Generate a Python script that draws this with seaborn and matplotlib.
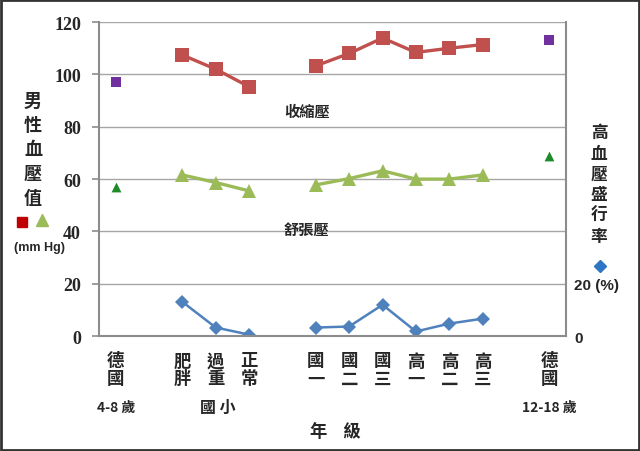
import matplotlib
matplotlib.use("Agg")
import matplotlib.pyplot as plt
from matplotlib.patches import Rectangle
import numpy as np
import pandas as pd
import seaborn as sns

# grades (Taiwan groups) and German reference groups
grades = ["肥\n胖", "過\n重", "正\n常", "國\n一", "國\n二", "國\n三", "高\n一", "高\n二", "高\n三"]
grade_group = ["elem", "elem", "elem", "jr", "jr", "jr", "jr", "jr", "jr"]
systolic = [107.4, 102.0, 95.3, 103.3, 108.0, 113.9, 108.4, 110.0, 111.4]
diastolic = [61.6, 58.7, 55.5, 57.8, 60.2, 63.2, 60.0, 60.0, 61.6]
prevalence = [13.1, 3.3, 0.6, 3.3, 3.7, 12.0, 1.8, 4.8, 6.7]

germany = ["德\n國", "德\n國"]
germany_sys = [97.0, 113.0]
germany_dia = [57.0, 69.0]

# slot layout on the x axis (gaps between groups)
grade_pos = [2, 3, 4, 6, 7, 8, 9, 10, 11]
germany_pos = [0, 13]

sns.set_style("white")
plt.rcParams["font.family"] = ["Noto Sans CJK TC", "DejaVu Sans"]
plt.rcParams["font.weight"] = "bold"

df = pd.DataFrame({"pos": grade_pos, "grp": grade_group, "sys": systolic,
                   "dia": diastolic, "prev": prevalence})
gdf = pd.DataFrame({"pos": germany_pos, "sys": germany_sys, "dia": germany_dia})

fig = plt.figure(figsize=(6.4, 4.52), dpi=100)
ax = fig.add_axes([0.1547, 0.254, 0.7297, 0.695])

ax.grid(axis="y", color="#a6a6a6", lw=1)
ax.set_axisbelow(True)

sns.lineplot(data=df, x="pos", y="sys", units="grp", estimator=None, ax=ax,
             color="#c0504d", lw=2.4, marker="s", markersize=10.5, markeredgewidth=0)
sns.lineplot(data=df, x="pos", y="dia", units="grp", estimator=None, ax=ax,
             color="#9bbb59", lw=2.4, marker="^", markersize=10.5, markeredgewidth=0)
sns.lineplot(data=df, x="pos", y="prev", units="grp", estimator=None, ax=ax,
             color="#4f81bd", lw=1.8, marker="D", markersize=7, markeredgewidth=0)
sns.scatterplot(data=gdf, x="pos", y="sys", ax=ax, color="#7030a0", marker="s",
                s=50, linewidth=0)
sns.scatterplot(data=gdf, x="pos", y="dia", ax=ax, color="#1e8b28", marker="^",
                s=50, linewidth=0)

ax.set_xlim(-0.5, 13.5)
ax.set_ylim(0, 120)
ax.set_yticks(range(0, 121, 20))
ax.set_yticklabels([str(v) for v in range(0, 121, 20)],
                   family="Liberation Serif", fontsize=13, fontweight="bold")
ax.set_xticks(np.arange(-0.5, 14, 1))
ax.set_xticklabels([])
ax.set_xticks(grade_pos + germany_pos, minor=True)
ax.set_xticklabels(grades + germany, minor=True, fontsize=12.5, linespacing=1.0)
ax.tick_params(axis="x", which="major", direction="out", length=5, color="#8c8c8c", width=1.2)
ax.tick_params(axis="x", which="minor", length=0, pad=11)
ax.tick_params(axis="y", direction="out", length=5, color="#8c8c8c", width=1.2, pad=8)
ax.set_xlabel("")
ax.set_ylabel("")
for side in ["left", "bottom", "right"]:
    ax.spines[side].set_color("#8c8c8c")
    ax.spines[side].set_linewidth(1.5)
ax.spines["top"].set_visible(False)

ax2 = ax.twinx()
ax2.set_ylim(0, 120)
ax2.set_yticks([0, 20])
ax2.set_yticklabels(["0", "20 (%)"], fontsize=11, fontweight="bold", family="Liberation Sans")
ax2.tick_params(axis="y", length=0, pad=6)
for side in ["left", "bottom", "top", "right"]:
    ax2.spines[side].set_visible(False)

ax.text(5.73, 86, "收縮壓", ha="center", va="center", fontsize=11)
ax.text(5.73, 41, "舒張壓", ha="center", va="center", fontsize=11)

fig.text(116 / 640, 1 - 408 / 452, "4-8 歲", ha="center", va="center", fontsize=10)
fig.text(218 / 640, 1 - 408 / 452, "國 小", ha="center", va="center", fontsize=11.5)
fig.text(549 / 640, 1 - 408 / 452, "12-18 歲", ha="center", va="center", fontsize=10)
fig.text(335 / 640, 1 - 432 / 452, "年    級", ha="center", va="center", fontsize=12.5)

fig.text(33 / 640, 1 - 150 / 452, "男\n性\n血\n壓\n值", ha="center", va="center",
         fontsize=13, linespacing=1.35)
fig.text(40 / 640, 1 - 248 / 452, "(mm Hg)", ha="center", va="center", fontsize=9,
         family="Liberation Sans")
fig.add_artist(plt.Line2D([22 / 640], [1 - 223 / 452], marker="s", color="#c00000",
                          markersize=7, transform=fig.transFigure))
fig.add_artist(plt.Line2D([42 / 640], [1 - 221 / 452], marker="^", color="#9bbb59",
                          markersize=8, transform=fig.transFigure))

fig.text(599 / 640, 1 - 185 / 452, "高\n血\n壓\n盛\n行\n率", ha="center", va="center",
         fontsize=12, linespacing=1.2)
fig.add_artist(plt.Line2D([600 / 640], [1 - 267 / 452], marker="D", color="#2e75c6",
                          markersize=6, transform=fig.transFigure))

fig.patches.append(Rectangle((0.002, 0.003), 0.996, 0.994, transform=fig.transFigure,
                             fill=False, edgecolor="#333333", lw=2))

fig.savefig("out.png", dpi=100)
